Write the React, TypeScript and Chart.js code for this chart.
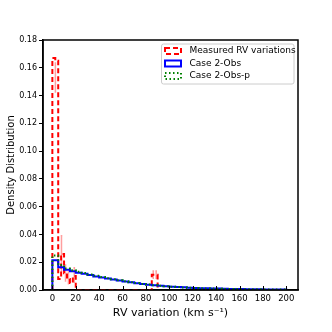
import React, { useEffect, useRef } from "react";
import { Chart, registerables } from "chart.js";

Chart.register(...registerables);

// ---- data ----
const measuredBinStarts = [0, 2.5, 5, 7.5, 10, 12.5, 15, 17.5, 85, 87.5];
const measuredBinWidth = 2.5;
const measuredValues = [0.167, 0.165, 0.008, 0.026, 0.012, 0.008, 0.005, 0.01, 0.011, 0.011];
const measuredErrX = [2.6, 7.8, 11.25, 13.75, 18.75, 86.25, 88.75];
const measuredErrLow = [0.142, 0.013, 0.006, 0.004, 0.005, 0.008, 0.008];
const measuredErrHigh = [0.164, 0.039, 0.018, 0.013, 0.016, 0.0137, 0.0137];

const caseBinWidth = 5;
const case2Obs = [
  0.0215, 0.0163, 0.0145, 0.0135, 0.0125, 0.0117, 0.0108, 0.0098, 0.009, 0.0083,
  0.0075, 0.0068, 0.0061, 0.0055, 0.0049, 0.0043, 0.0038, 0.0034, 0.003, 0.0027,
  0.0024, 0.0021, 0.0019, 0.0017, 0.0015, 0.0013, 0.0012, 0.0011, 0.001, 0.0009,
  0.0008, 0.0007, 0.0007, 0.0006, 0.0005, 0.0005, 0.0004, 0.0004, 0.0003, 0.0003,
];
const case2ObsP = [
  0.0248, 0.018, 0.0155, 0.0143, 0.0132, 0.0122, 0.0112, 0.0102, 0.0093, 0.0085,
  0.0077, 0.007, 0.0063, 0.0056, 0.005, 0.0044, 0.0039, 0.0034, 0.003, 0.0027,
  0.0023, 0.0021, 0.0018, 0.0016, 0.0014, 0.0013, 0.0011, 0.001, 0.0009, 0.0008,
  0.0008, 0.0007, 0.0006, 0.0006, 0.0005, 0.0005, 0.0004, 0.0004, 0.0003, 0.0003,
];

const xTickValues = [0, 20, 40, 60, 80, 100, 120, 140, 160, 180, 200];
const yTickValues = [0, 0.02, 0.04, 0.06, 0.08, 0.1, 0.12, 0.14, 0.16, 0.18];

const legendLabels = ["Measured RV variations", "Case 2-Obs", "Case 2-Obs-p"];

const FONT = "DejaVu Sans";

function stepOutline(starts: number[], width: number, values: number[]) {
  const pts: { x: number; y: number }[] = [];
  let prevEnd: number | null = null;
  starts.forEach((s, i) => {
    const e = s + width;
    if (prevEnd === null) {
      pts.push({ x: s, y: 0 });
    } else if (Math.abs(prevEnd - s) > 1e-9) {
      pts.push({ x: prevEnd, y: 0 });
      pts.push({ x: s, y: 0 });
    }
    pts.push({ x: s, y: values[i] });
    pts.push({ x: e, y: values[i] });
    prevEnd = e;
  });
  if (prevEnd !== null) pts.push({ x: prevEnd, y: 0 });
  return pts;
}

function uniformStarts(n: number, width: number) {
  const out: number[] = [];
  for (let i = 0; i < n; i++) out.push(i * width);
  return out;
}

function errorPoints() {
  const pts: { x: number; y: number | null }[] = [];
  const cap = 0.7;
  measuredErrX.forEach((x, i) => {
    pts.push({ x, y: measuredErrLow[i] });
    pts.push({ x, y: measuredErrHigh[i] });
    pts.push({ x, y: null });
    if (measuredErrHigh[i] < 0.1) {
      pts.push({ x: x - cap, y: measuredErrHigh[i] });
      pts.push({ x: x + cap, y: measuredErrHigh[i] });
      pts.push({ x, y: null });
    }
  });
  return pts;
}

const decorPlugin = {
  id: "decor",
  afterDraw(chart: any) {
    const ctx = chart.ctx;
    const { left, right, top, bottom } = chart.chartArea;
    const xs = chart.scales.x;
    ctx.save();
    // inward x ticks
    ctx.strokeStyle = "#000";
    ctx.lineWidth = 1;
    xTickValues.forEach((v) => {
      const px = Math.round(xs.getPixelForValue(v)) + 0.5;
      ctx.beginPath();
      ctx.moveTo(px, bottom);
      ctx.lineTo(px, bottom - 4);
      ctx.stroke();
    });
    // frame
    ctx.lineWidth = 1.5;
    ctx.strokeRect(left, top, right - left, bottom - top);

    // legend
    const bx = 161.5, by = 44, bw = 132.5, bh = 40, r = 2;
    ctx.fillStyle = "rgba(255,255,255,0.85)";
    ctx.strokeStyle = "#cccccc";
    ctx.lineWidth = 1;
    ctx.beginPath();
    ctx.moveTo(bx + r, by);
    ctx.lineTo(bx + bw - r, by);
    ctx.quadraticCurveTo(bx + bw, by, bx + bw, by + r);
    ctx.lineTo(bx + bw, by + bh - r);
    ctx.quadraticCurveTo(bx + bw, by + bh, bx + bw - r, by + bh);
    ctx.lineTo(bx + r, by + bh);
    ctx.quadraticCurveTo(bx, by + bh, bx, by + bh - r);
    ctx.lineTo(bx, by + r);
    ctx.quadraticCurveTo(bx, by, bx + r, by);
    ctx.closePath();
    ctx.fill();
    ctx.stroke();

    const styles = [
      { color: "#ff0000", dash: [5, 3] },
      { color: "#0000ff", dash: [] as number[] },
      { color: "#008000", dash: [1.5, 2.5] },
    ];
    const ys = [51, 63.5, 76];
    legendLabels.forEach((label, i) => {
      const cy = ys[i];
      ctx.strokeStyle = styles[i].color;
      ctx.lineWidth = 2;
      ctx.setLineDash(styles[i].dash);
      ctx.strokeRect(165, cy - 3, 16, 6);
      ctx.setLineDash([]);
      ctx.fillStyle = "#000";
      ctx.font = `9px "${FONT}"`;
      ctx.textBaseline = "middle";
      ctx.textAlign = "left";
      ctx.fillText(label, 189.5, cy);
    });
    ctx.restore();
  },
};

export default function App() {
  const ref = useRef<HTMLCanvasElement | null>(null);
  useEffect(() => {
    if (!ref.current) return;
    const chart = new Chart(ref.current, {
      type: "line",
      data: {
        datasets: [
          {
            label: legendLabels[2],
            data: stepOutline(uniformStarts(case2ObsP.length, caseBinWidth), caseBinWidth, case2ObsP),
            borderColor: "#008000",
            borderWidth: 2,
            borderDash: [1.5, 2.5],
            pointRadius: 0,
            fill: false,
            order: 1,
          },
          {
            label: legendLabels[1],
            data: stepOutline(uniformStarts(case2Obs.length, caseBinWidth), caseBinWidth, case2Obs),
            borderColor: "#0000ff",
            borderWidth: 2,
            pointRadius: 0,
            fill: false,
            order: 2,
          },
          {
            label: legendLabels[0],
            data: stepOutline(measuredBinStarts, measuredBinWidth, measuredValues),
            borderColor: "#ff0000",
            borderWidth: 2,
            borderDash: [5, 3],
            pointRadius: 0,
            fill: false,
            order: 3,
          },
          {
            label: "errors",
            data: errorPoints(),
            borderColor: "rgba(255,80,80,0.55)",
            borderWidth: 1.5,
            pointRadius: 0,
            spanGaps: false,
            fill: false,
            order: 4,
          },
        ] as any,
      },
      options: {
        animation: false,
        responsive: true,
        maintainAspectRatio: false,
        layout: { padding: { left: 0, right: 34, top: 40, bottom: 12 } },
        plugins: { legend: { display: false }, tooltip: { enabled: false } },
        elements: { line: { tension: 0 } },
        scales: {
          x: {
            type: "linear",
            min: -8,
            max: 210,
            afterBuildTicks: (s: any) => {
              s.ticks = xTickValues.map((v) => ({ value: v }));
            },
            afterFit: (s: any) => {
              s.height = 30;
            },
            grid: { display: false, drawTicks: false },
            border: { display: true, color: "#000", width: 1.5 },
            ticks: {
              color: "#000",
              font: { family: FONT, size: 8.5 },
              padding: 4,
              maxRotation: 0,
              autoSkip: false,
            },
            title: {
              display: true,
              text: "RV variation (km s\u207B\u00B9)",
              color: "#000",
              font: { family: FONT, size: 11 },
              padding: { top: 2, bottom: 0 },
            },
          },
          y: {
            type: "linear",
            min: 0,
            max: 0.18,
            afterBuildTicks: (s: any) => {
              s.ticks = yTickValues.map((v) => ({ value: v }));
            },
            afterFit: (s: any) => {
              s.width = 43;
            },
            grid: { drawOnChartArea: false, drawTicks: true, tickLength: 4, color: "#000" },
            border: { display: true, color: "#000", width: 1.5 },
            ticks: {
              color: "#000",
              font: { family: FONT, size: 8 },
              padding: 2,
              autoSkip: false,
              callback: (v: any) => Number(v).toFixed(2),
            },
            title: {
              display: true,
              text: "Density Distribution",
              color: "#000",
              font: { family: FONT, size: 10 },
              padding: { top: 5, bottom: 0 },
            },
          },
        },
      },
      plugins: [decorPlugin],
    });
    return () => chart.destroy();
  }, []);
  return (
    <div style={{ position: "fixed", left: 0, top: 0, width: 332, height: 332, background: "#fff" }}>
      <canvas ref={ref} />
    </div>
  );
}
